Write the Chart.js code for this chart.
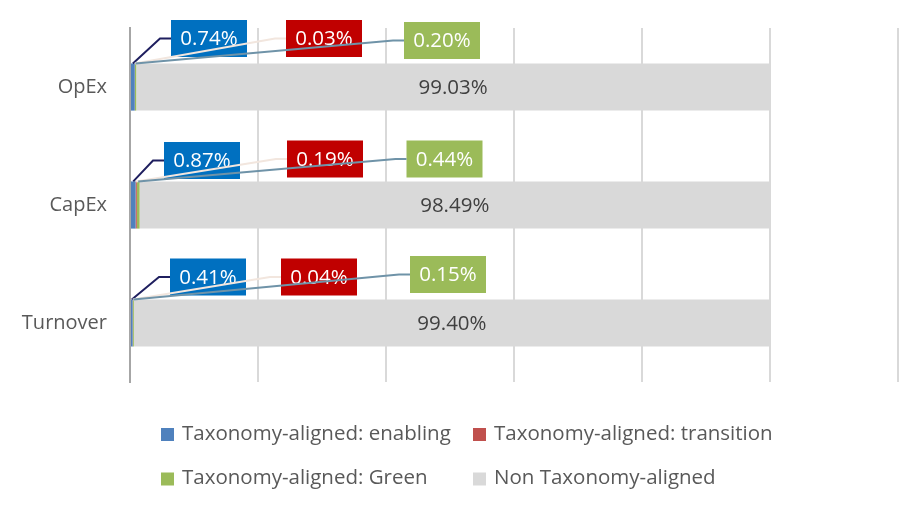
<!DOCTYPE html>
<html>
<head>
<meta charset="utf-8">
<script src="https://cdn.jsdelivr.net/npm/chart.js@4/dist/chart.umd.min.js"></script>
<style>
  body { margin: 0; background: #fff; }
  #wrap { width: 899px; height: 507px; position: relative; }
</style>
</head>
<body>
<div id="wrap"><canvas id="myChart"></canvas></div>
<script>
const categories = ['OpEx', 'CapEx', 'Turnover'];
const seriesNames = ['Taxonomy-aligned: enabling', 'Taxonomy-aligned: transition', 'Taxonomy-aligned: Green', 'Non Taxonomy-aligned'];
const enabling = [0.74, 0.87, 0.41];
const transition = [0.03, 0.19, 0.04];
const green = [0.20, 0.44, 0.15];
const nonAligned = [99.03, 98.49, 99.40];
const xTicks = [0, 20, 40, 60, 80, 100, 120];

const barColors = ['#4F81BD', '#C0504D', '#9BBB59', '#D9D9D9'];
const boxColors = ['#0070C0', '#C00000', '#9BBB59'];
const leaderColors = ['#1F1F5F', '#F2E6DE', '#6F93A8'];

// callout box centre, px offset from the zero line / category centre
const calloutOffsets = [
    [[79, -48.5], [72, -44.5], [78, -46]],
    [[194, -48.5], [195, -46], [189, -46]],
    [[312, -46.5], [314.5, -46], [318, -48.5]]
];

const FONT = '"Open Sans", "DejaVu Sans", sans-serif';

const calloutPlugin = {
    id: 'callouts',
    afterDatasetsDraw(chart) {
        const ctx = chart.ctx;
        const x0 = chart.scales.x.getPixelForValue(0);
        ctx.save();
        ctx.font = '20.5px ' + FONT;
        ctx.textAlign = 'center';
        ctx.textBaseline = 'middle';

        // value inside grey bars
        const greyMeta = chart.getDatasetMeta(3);
        greyMeta.data.forEach((bar, i) => {
            ctx.fillStyle = '#404040';
            ctx.fillText(nonAligned[i].toFixed(2) + '%', (bar.base + bar.x) / 2, bar.y + 1);
        });

        const boxW = 76, boxH = 37;
        const lines = [];
        for (let s = 0; s < 3; s++) {
            const meta = chart.getDatasetMeta(s);
            const values = chart.data.datasets[s].data;
            meta.data.forEach((bar, i) => {
                const off = calloutOffsets[s][i];
                const cx = x0 + off[0];
                const cy = bar.y + off[1];
                ctx.fillStyle = boxColors[s];
                ctx.fillRect(cx - boxW / 2, cy - boxH / 2, boxW, boxH);
                ctx.fillStyle = '#FFFFFF';
                ctx.fillText(values[i].toFixed(2) + '%', cx, cy + 1);
                lines.push({
                    color: leaderColors[s],
                    pts: [
                        [(bar.base + bar.x) / 2, bar.y - bar.height / 2],
                        [cx - boxW / 2 - 11, cy],
                        [cx - boxW / 2, cy]
                    ]
                });
            });
        }
        // leader lines go over the boxes
        ctx.lineWidth = 2;
        lines.forEach(l => {
            ctx.strokeStyle = l.color;
            ctx.beginPath();
            ctx.moveTo(l.pts[0][0], l.pts[0][1]);
            ctx.lineTo(l.pts[1][0], l.pts[1][1]);
            ctx.lineTo(l.pts[2][0], l.pts[2][1]);
            ctx.stroke();
        });
        ctx.restore();
    },
    afterDraw(chart) {
        // two-column legend
        const ctx = chart.ctx;
        const cols = [161, 473];
        const rows = [434, 478.5];
        ctx.save();
        ctx.font = '20.5px ' + FONT;
        ctx.textAlign = 'left';
        ctx.textBaseline = 'middle';
        chart.data.datasets.forEach((ds, k) => {
            const x = cols[k % 2];
            const y = rows[Math.floor(k / 2)];
            ctx.fillStyle = ds.backgroundColor;
            ctx.fillRect(x, y - 6, 13, 13);
            ctx.fillStyle = '#595959';
            ctx.fillText(ds.label, x + 21, y);
        });
        ctx.restore();
    }
};

const series = [enabling, transition, green, nonAligned];

const ctx = document.getElementById('myChart').getContext('2d');
const chart = new Chart(ctx, {
    type: 'bar',
    data: {
        labels: categories,
        datasets: series.map((vals, k) => ({
            label: seriesNames[k],
            data: vals,
            backgroundColor: barColors[k],
            borderWidth: 0,
            categoryPercentage: 1,
            barPercentage: 0.4
        }))
    },
    options: {
        indexAxis: 'y',
        responsive: true,
        maintainAspectRatio: false,
        animation: false,
        layout: { padding: { top: 28, right: 1, bottom: 125, left: 0 } },
        plugins: {
            legend: { display: false },
            tooltip: { enabled: false }
        },
        scales: {
            x: {
                stacked: true,
                min: 0,
                max: 120,
                afterBuildTicks(scale) {
                    scale.ticks = xTicks.map(v => ({ value: v }));
                },
                afterFit(scale) {
                    scale.height = 0;
                    scale.paddingLeft = 0;
                    scale.paddingRight = 0;
                },
                ticks: { display: false },
                grid: { color: '#D9D9D9', lineWidth: 2, drawTicks: false },
                border: { display: false }
            },
            y: {
                stacked: true,
                afterFit(scale) {
                    scale.width = 130;
                    scale.paddingTop = 0;
                    scale.paddingBottom = 0;
                },
                ticks: {
                    color: '#595959',
                    font: { family: FONT, size: 20 },
                    padding: 23
                },
                grid: { display: false, drawTicks: false },
                border: { display: true, color: '#A6A6A6', width: 2 }
            }
        }
    },
    plugins: [calloutPlugin]
});
</script>
</body>
</html>
